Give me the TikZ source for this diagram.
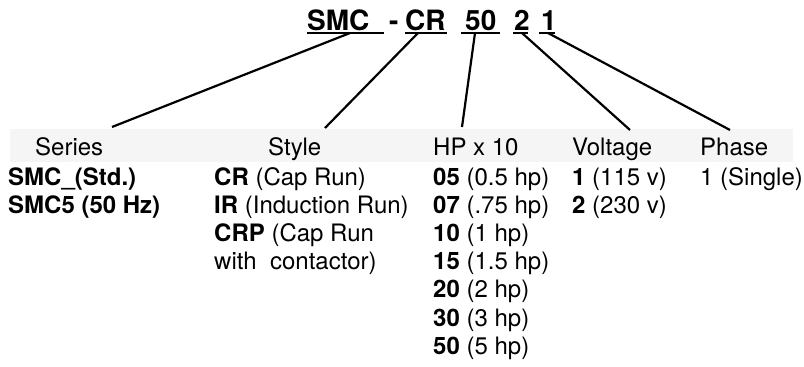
\documentclass[tikz,border=0pt]{standalone}
\usepackage{fontspec}
\setmainfont{TeX Gyre Heros}
\usetikzlibrary{calc}

\begin{document}
\begin{tikzpicture}[x=1pt, y=-1pt,
ttl/.style = {anchor=base west, inner sep=0pt, font=\fontsize{28}{30}\selectfont\bfseries},
hdr/.style = {anchor=base west, inner sep=0pt, font=\fontsize{24}{28.2}\selectfont},
itm/.style = {anchor=base west, inner sep=0pt, align=left, font=\fontsize{24}{28.2}\selectfont},
lnk/.style = {line width=2.2pt}
]
\useasboundingbox (0,0) rectangle (804,367);
\fill[black!4] (10,129) rectangle (793,162);
% code letters
\node[ttl] (smc) at (307,30) {SMC};
\node[ttl] (dsh) at (389,30) {-};
\node[ttl] (cr) at (405,30) {CR};
\node[ttl] (hp) at (465,30) {50};
\node[ttl] (volt) at (514,30) {2};
\node[ttl] (ph) at (541,30) {1};
\foreach \a/\b in {307/384, 405/447, 461/500, 513/528, 539/555}{\draw[line width=2pt] (\a,33) -- (\b,33);}
% column heads
\node[hdr] (series) at (35,155) {Series};
\node[hdr] (style) at (268,155) {Style};
\node[hdr] (hpx) at (433,155) {HP x 10};
\node[hdr] (voltage) at (572,155) {Voltage};
\node[hdr] (phase) at (700,155) {Phase};
% choices (anchored on the last line's baseline)
\node[itm] (seriesl) at (8,213.2) {\textbf{SMC\_(Std.)}\\\textbf{SMC5 (50 Hz)}};
\node[itm] (stylel) at (214,269.6) {\textbf{CR} (Cap Run)\\\textbf{IR} (Induction Run)\\\textbf{CRP} (Cap Run\\with\ \ contactor)};
\node[itm] (hpl) at (433,354.2) {\textbf{05} (0.5 hp)\\\textbf{07} (.75 hp)\\\textbf{10} (1 hp)\\\textbf{15} (1.5 hp)\\\textbf{20} (2 hp)\\\textbf{30} (3 hp)\\\textbf{50} (5 hp)};
\node[itm] (voltl) at (572,213.2) {\textbf{1} (115 v)\\\textbf{2} (230 v)};
\node[itm] (phl) at (700,185) {1 (Single)};
% leaders
\coordinate (smc-a) at (350,33);  \coordinate (smc-b) at (112,127);
\coordinate (cr-a) at (418,33);   \coordinate (cr-b) at (325,128);
\coordinate (hp-a) at (475,33);   \coordinate (hp-b) at (462,127);
\coordinate (volt-a) at (522,33); \coordinate (volt-b) at (630,130);
\coordinate (ph-a) at (548,33);   \coordinate (ph-b) at (730,130);
\foreach \i in {smc, cr, hp, volt, ph}{\draw[lnk] (\i-a) -- (\i-b);}
\end{tikzpicture}
\end{document}
